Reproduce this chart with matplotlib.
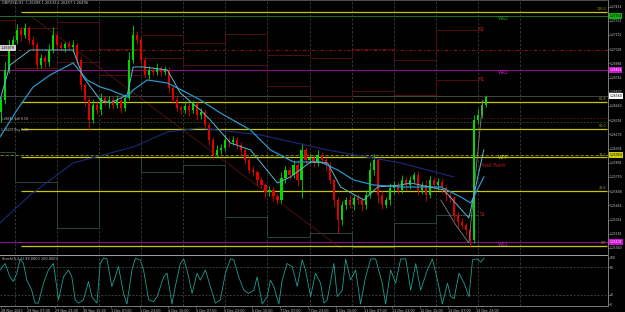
import numpy as np
import matplotlib.pyplot as plt

# GBPUSD H1, values
# time axis: trading hours counted from 29 Nov 00:00
first_open = 1.2640
closes = [
    1.2652, 1.2682, 1.2707, 1.2712, 1.2722, 1.2717, 1.2724, 1.2712, 1.2707, 1.2687,
    1.2694, 1.2690, 1.2702, 1.2717, 1.2707, 1.2704, 1.2708, 1.2705, 1.2707, 1.2692,
    1.2667, 1.2652, 1.2632, 1.2647, 1.2642, 1.2654, 1.2650, 1.2652, 1.2647, 1.2652,
    1.2644, 1.2654, 1.2692, 1.2717, 1.2712, 1.2692, 1.2677, 1.2682, 1.2680, 1.2684,
    1.2680, 1.2682, 1.2664, 1.2652, 1.2644, 1.2642, 1.2646, 1.2642, 1.2648, 1.2637,
    1.2640, 1.2627, 1.2612, 1.2597, 1.2602, 1.2604, 1.2612, 1.2610, 1.2612, 1.2607,
    1.2602, 1.2592, 1.2582, 1.2580, 1.2572, 1.2567, 1.2560, 1.2562, 1.2556, 1.2552,
    1.2574, 1.2582, 1.2577, 1.2587, 1.2572, 1.2602, 1.2592, 1.2594, 1.2590, 1.2597,
    1.2592, 1.2587, 1.2572, 1.2552, 1.2532, 1.2547, 1.2552, 1.2547, 1.2554, 1.2552,
    1.2547, 1.2557, 1.2582, 1.2592, 1.2557, 1.2547, 1.2552, 1.2564, 1.2567, 1.2562,
    1.2572, 1.2567, 1.2572, 1.2577, 1.2562, 1.2567, 1.2557, 1.2572, 1.2567, 1.2570,
    1.2564, 1.2557, 1.2554, 1.2537, 1.2530, 1.2527, 1.2522, 1.2512, 1.2632, 1.2637,
    1.2647, 1.2655]
# wick lengths above / below the body, in pips
hi_ext = [3, 8, 5, 4, 6, 3, 5, 2, 4, 3, 4, 3, 6, 8, 3, 4, 2, 3, 5, 2,
          3, 2, 4, 6, 3, 5, 2, 4, 3, 5, 3, 4, 8, 10, 4, 3, 3, 4, 3, 5,
          2, 4, 3, 2, 4, 3, 5, 3, 4, 2, 4, 3, 2, 3, 5, 4, 6, 3, 4, 3,
          3, 2, 3, 4, 2, 3, 2, 4, 3, 2, 6, 4, 3, 5, 3, 7, 3, 4, 3, 5,
          3, 2, 3, 2, 3, 4, 3, 5, 3, 4, 3, 5, 8, 6, 3, 4, 3, 5, 4, 3,
          5, 3, 4, 3, 4, 3, 5, 4, 3, 4, 3, 2, 3, 2, 3, 4, 2, 3, 5, 6,
          4, 2]
lo_ext = [10, 4, 3, 5, 4, 6, 3, 4, 5, 4, 3, 5, 4, 3, 5, 3, 4, 3, 5, 4,
          5, 6, 10, 3, 4, 5, 3, 6, 4, 3, 5, 3, 2, 3, 4, 5, 3, 4, 3, 3,
          4, 3, 5, 4, 3, 4, 3, 6, 3, 5, 4, 3, 5, 4, 3, 4, 3, 5, 3, 4,
          5, 4, 3, 4, 5, 3, 6, 4, 5, 4, 3, 5, 4, 3, 6, 18, 4, 3, 5, 4,
          3, 5, 4, 6, 13, 5, 4, 3, 5, 4, 6, 4, 3, 5, 8, 4, 3, 5, 6, 4,
          3, 5, 4, 3, 5, 4, 6, 3, 4, 5, 5, 6, 4, 5, 6, 4, 5, 7, 3, 4,
          3, 2]

# moving averages (hour, price)
ma_fast_t = [-8.6, -2.9, 8.6, 33.1, 38.9, 48.6, 54.3, 64.0, 67.4, 73.1, 86.9, 94.3, 105.7, 111.4,
             122.9, 134.3, 149.7, 157.1, 168.6, 178.3, 185.7, 198.9, 206.9, 220.0, 225.7, 244.6,
             258.9, 267.4]
ma_fast = [1.2652, 1.2687, 1.2702, 1.2702, 1.2675, 1.2652, 1.2649, 1.2657, 1.2685, 1.2685,
           1.2682, 1.2659, 1.2642, 1.2632, 1.2609, 1.2602, 1.2569, 1.2575, 1.2590, 1.2589,
           1.2565, 1.2552, 1.2565, 1.2567, 1.2569, 1.2562, 1.2534, 1.2602]
ma_slow_t = [-8.6, 1.1, 10.3, 20.0, 33.1, 41.1, 48.6, 54.3, 64.0, 67.4, 75.4, 86.9, 98.3, 105.7,
             117.1, 134.3, 145.7, 158.9, 174.3, 184.0, 193.1, 204.6, 220.0, 242.9, 254.3, 260.0,
             267.4]
ma_slow = [1.2615, 1.2642, 1.2665, 1.2677, 1.2689, 1.2672, 1.2665, 1.2662, 1.2655, 1.2662,
           1.2672, 1.2669, 1.2659, 1.2652, 1.2639, 1.2622, 1.2602, 1.2590, 1.2590, 1.2582,
           1.2572, 1.2567, 1.2565, 1.2565, 1.2555, 1.2549, 1.2575]
ma_long_t = [-8.6, 8.6, 33.1, 67.4, 86.9, 105.7, 140.0, 178.3, 220.0, 250.3]
ma_long = [1.2529, 1.2557, 1.2589, 1.2605, 1.2620, 1.2624, 1.2617, 1.2602, 1.2589, 1.2575]
ma_gray_t = [242.9, 251.4, 258.9, 266.9]
ma_gray = [1.2552, 1.2527, 1.2509, 1.2652]

# daily pivot levels (segment starts in hours)
day_starts = [-8.6, 0, 24, 48, 72, 96, 120, 144, 168, 192, 216, 240, 264]
r2 = [1.2732, 1.2724, 1.2730, 1.2703, 1.2717, 1.2709, 1.2718, 1.2697, 1.2694, 1.2703, 1.2692, 1.2722]
r1 = [1.2697, 1.2684, 1.2690, 1.2677, 1.2694, 1.2687, 1.2687, 1.2666, 1.2656, 1.2661, 1.2657, 1.2672]
s1 = [1.2600, 1.2570, 1.2524, 1.2595, 1.2580, 1.2587, 1.2535, 1.2515, 1.2519, 1.2505, 1.2529, 1.2537]

# fibonacci and weekly levels
fib_levels = [1.2740, 1.2650, 1.2623, 1.25947, 1.2561, 1.2506]
fib_names = ["100.0", "61.8", "50.0", "38.2", "23.6", "0.0"]
weekly_levels = [1.2736, 1.2682, 1.2597, 1.2510]
weekly_names = ["WR2", "WR1", "WPP", "WS1"]
bid = 1.2656
trend_t = [9.7, 185.7]
trend_p = [1.2735, 1.2504]

# stochastic %K
stoch_t = [-8.6, -5.7, -2.9, -1.0, 1.0, 2.9, 4.8, 6.7, 9.5, 11.4, 13.3, 16.2, 19.0, 21.9,
           24.8, 27.6, 30.5, 32.4, 34.3, 36.2, 39.0, 41.9, 43.8, 46.7, 48.6, 50.5, 52.4,
           55.2, 57.1, 59.0, 61.9, 63.8, 66.7, 68.6, 71.4, 73.3, 76.2, 79.0, 81.0, 84.8,
           86.7, 89.5, 91.4, 94.3, 96.2, 98.1, 101.0, 103.8, 105.7, 108.6, 111.4, 114.3,
           117.1, 120.0, 122.9, 124.8, 127.6, 130.5, 133.3, 136.2, 138.1, 141.0, 143.8,
           145.7, 147.6, 150.5, 152.4, 155.2, 158.1, 161.0, 163.8, 165.7, 168.6, 171.4,
           174.3, 176.2, 178.1, 181.9, 183.8, 186.7, 188.6, 191.4, 194.3, 197.1, 200.0,
           202.9, 205.7, 209.5, 211.4, 214.3, 217.1, 220.0, 222.9, 225.7, 228.6, 231.4,
           235.2, 238.1, 241.0, 243.8, 246.7, 248.6, 250.5, 253.3, 256.2, 259.0, 261.0,
           263.8, 265.7, 267.6]
stoch_k = [74, 88, 59, 49, 67, 98, 88, 52, 30, 2, 2, 45, 74, 88,
           9, 59, 74, 59, 9, 2, 9, 49, 16, 2, 88, 100, 98,
           38, 59, 81, 23, 0, 74, 99, 96, 74, 9, 5, 16, 59,
           67, 0, 38, 88, 98, 74, 23, 67, 52, 74, 38, 2,
           9, 67, 98, 96, 59, 30, 23, 30, 59, 0, 16,
           52, 38, 0, 52, 88, 81, 38, 96, 74, 16, 67,
           45, 2, 9, 88, 16, 30, 98, 52, 74, 0, 59,
           98, 98, 45, 0, 74, 45, 98, 98, 30, 88, 30,
           74, 98, 52, 0, 45, 16, 12, 67, 45, 16, 96,
           98, 91, 100]

tick_hours = [-8, 7, 23, 39, 55, 71, 87, 103, 119, 135, 151, 167, 183, 199, 215, 231, 247, 263]
tick_names = ["28 Nov 2023", "29 Nov 07:00", "29 Nov 23:00", "30 Nov 15:00", "1 Dec 07:00",
              "1 Dec 23:00", "4 Dec 15:00", "5 Dec 07:00", "5 Dec 23:00", "6 Dec 15:00",
              "7 Dec 07:00", "7 Dec 23:00", "8 Dec 15:00", "11 Dec 07:00", "11 Dec 23:00",
              "12 Dec 15:00", "13 Dec 07:00", "13 Dec 23:00"]

TXT = "#c8c8c8"
GRID = "#3c3c3c"
YEL = "#c8c800"

fig = plt.figure(figsize=(6.25, 3.12), dpi=100, facecolor="black")
ax = fig.add_axes([0, 0.186, 0.972, 0.814], facecolor="black")
ax2 = fig.add_axes([0, 0.0192, 0.972, 0.1635], facecolor="black")

xmin, xmax = -8.6, 338
for a in (ax, ax2):
    a.set_xlim(xmin, xmax)
    for s in ("left", "top", "bottom"):
        a.spines[s].set_visible(False)
    a.spines["right"].set_color("#909090")
    a.spines["right"].set_linewidth(0.6)
    a.yaxis.tick_right()
    a.tick_params(axis="y", colors="#909090", labelcolor=TXT, labelsize=2.2,
                  length=1.2, width=0.4, pad=0.6)
    for d in range(0, 289, 24):
        a.axvline(d, color=GRID, lw=0.6, ls=(0, (3, 2)), zorder=0)

ax.set_ylim(1.2498, 1.2752)
ax.spines["top"].set_visible(True)
ax.spines["top"].set_color("#707070")
ax.spines["top"].set_linewidth(0.5)
ax.set_xticks([])
yt = 1.25040 + np.arange(18) * 0.00142
ax.set_yticks(yt)
ax.set_yticklabels([f"{v:.5f}" for v in yt])

# horizontal levels
ax.axhline(weekly_levels[0], color="#1f6b1f", lw=0.8, zorder=1)
ax.axhline(weekly_levels[1], color="#8b108b", lw=0.8, zorder=1)
ax.axhline(weekly_levels[3], color="#8b108b", lw=0.8, zorder=1)
ax.axhline(weekly_levels[2], color="#8a8a40", lw=0.6, ls=(0, (4, 2)), zorder=1)
ax.axhline(1.2702, color="#8b1010", lw=0.8, ls=(0, (3, 2, 1, 2)), zorder=1)
ax.axhline(1.2634, color="#7a1010", lw=0.6, ls=(0, (2, 2)), zorder=1)
ax.axhline(1.2630, color="#1f5f2f", lw=0.6, ls=(0, (2, 2)), zorder=1)
ax.axhline(bid, color="#606060", lw=0.5, zorder=1)
for lv, nm in zip(fib_levels, fib_names):
    ax.hlines(lv, 3.4, xmax, color=YEL, lw=0.9, zorder=2)
    ax.text(xmax - 0.5, lv + 0.00005, nm, color="#a0a030", fontsize=2.4,
            ha="right", va="bottom")

# daily pivot steps
ax.step(day_starts, r2 + [r2[-1]], where="post", color="#4e1010", lw=0.7, zorder=1)
ax.step(day_starts, r1 + [r1[-1]], where="post", color="#4e1010", lw=0.7, zorder=1)
ax.step(day_starts, s1 + [s1[-1]], where="post", color="#2c463a", lw=0.7, zorder=1)
ax.plot(trend_t, trend_p, color="#5a1010", lw=0.6, zorder=1)

# candles
bar_step = 16 / 7
opens = [first_open] + closes[:-1]
for i, (o, c) in enumerate(zip(opens, closes)):
    t = -8 + i * bar_step
    col = "#00d800" if c >= o else "#e00000"
    top, bot = max(o, c), min(o, c)
    ax.vlines(t, bot - lo_ext[i] * 1e-4, top + hi_ext[i] * 1e-4, color=col, lw=0.6, zorder=3)
    ax.bar(t, max(top - bot, 0.00004), bottom=bot, width=1.2, color=col, lw=0, zorder=3)

ax.plot(ma_long_t, ma_long, color="#1c2a78", lw=0.8, zorder=4)
ax.plot(ma_gray_t, ma_gray, color="#808080", lw=0.6, zorder=4)
ax.plot(ma_slow_t, ma_slow, color="#2a96c8", lw=0.9, zorder=4)
ax.plot(ma_fast_t, ma_fast, color="#5ab8d0", lw=0.7, zorder=4)

# level labels
lab_kw = dict(fontsize=3.4, va="center", ha="left")
ax.text(264.3, r2[-1], "R2", color="#c02020", **lab_kw)
ax.text(264.3, r1[-1], "R1", color="#c02020", **lab_kw)
ax.text(265.0, 1.2586, "Pivot Point", color="#c02020", **lab_kw)
ax.text(265.0, s1[-1], "S1", color="#c02020", **lab_kw)
for lv, nm, col in zip(weekly_levels, weekly_names, ["#2a9a2a", "#c020c0", YEL, "#c020c0"]):
    ax.text(275.4, lv - 0.00005, nm, color=col, fontsize=3.4, va="top", ha="left")

# price boxes on the right axis
boxes = [(weekly_levels[0], "1.27354", "#10b010", "black"),
         (weekly_levels[1], "1.26824", "#d010d0", "white"),
         (bid, "1.26560", "white", "black"),
         (weekly_levels[2], "1.25959", "#d0d000", "black"),
         (weekly_levels[3], "1.25101", "#d010d0", "white")]
for lv, s, fc, tc in boxes:
    ax.text(1.003, lv, s, transform=ax.get_yaxis_transform(), fontsize=2.2, color=tc,
            va="center", ha="left",
            bbox=dict(facecolor=fc, edgecolor="none", pad=0.5))

ax.text(0.004, 0.995, "GBPUSD,H1  1.26498 1.26533 1.26457 1.26496", transform=ax.transAxes,
        color=TXT, fontsize=2.6, va="top", ha="left")
ax.text(-8.0, 1.2704, "1.26979", color="black", fontsize=2.4, va="center", ha="left",
        bbox=dict(facecolor="#d0d0d0", edgecolor="none", pad=0.5))
ax.text(-8.0, 1.2633, "1.26341 Sell 0.10", color=TXT, fontsize=2.2, va="center", ha="left")
ax.text(-8.0, 1.2622, "1.26207 Buy 0.10", color=TXT, fontsize=2.2, va="center", ha="left")

# stochastic panel
ax2.set_ylim(-4.3, 106.5)
ax2.spines["top"].set_visible(True)
ax2.spines["top"].set_color("#a0a0a0")
ax2.spines["top"].set_linewidth(0.7)
ax2.spines["bottom"].set_visible(True)
ax2.spines["bottom"].set_color("#909090")
ax2.spines["bottom"].set_linewidth(0.6)
ax2.set_yticks([0, 20, 80, 100])
ax2.set_yticklabels(["0", "20", "80", "100"])
for lv in (20, 80):
    ax2.axhline(lv, color="#505050", lw=0.5, ls=(0, (3, 2)))
ax2.plot(stoch_t, stoch_k, color="#1f9f8f", lw=0.6)
ax2.text(0.004, 0.97, "Stoch(5,3,3) 99.0000 100.0000", transform=ax2.transAxes,
         color=TXT, fontsize=2.5, va="top", ha="left")
ax2.set_xticks(tick_hours)
ax2.set_xticklabels(tick_names, ha="left")
ax2.tick_params(axis="x", colors="#909090", labelcolor=TXT, labelsize=2.4,
                length=1.5, width=0.4, pad=0.5)

fig.savefig("out.png", dpi=100, facecolor="black")
